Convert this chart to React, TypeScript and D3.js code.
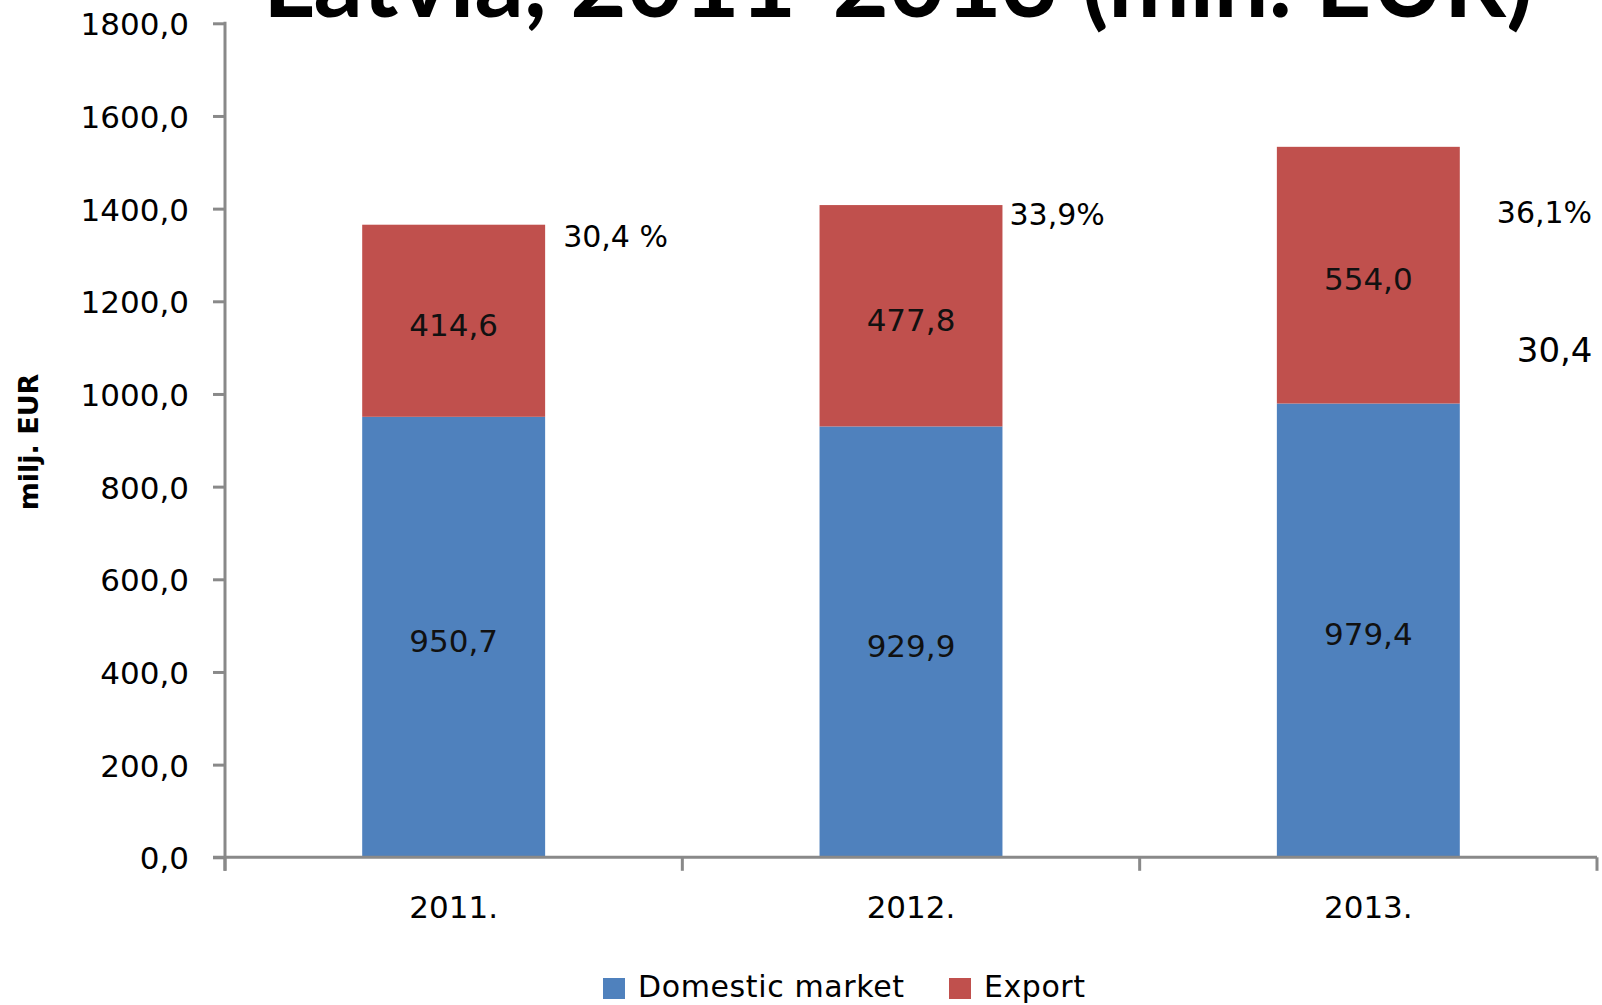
import React, { useRef, useEffect } from "react";
import * as d3 from "d3";

// chart values
const years = ["2011.", "2012.", "2013."];
const domestic = [950.7, 929.9, 979.4];
const exportVals = [414.6, 477.8, 554.0];
const shareLabels = ["30,4 %", "33,9%", "36,1%"];
const strayLabel = "30,4";
const yTicks = [0, 200, 400, 600, 800, 1000, 1200, 1400, 1600, 1800];
const seriesNames = ["Domestic market", "Export"];

const BLUE = "#4F81BD";
const RED = "#C0504D";
const AXIS = "#898989";
const FONT = "'DejaVu Sans', Verdana, sans-serif";

const App = () => {
  const svgRef = useRef<SVGSVGElement>(null);

  useEffect(() => {
    const width = 1602;
    const height = 1005;
    const left = 225;
    const right = 1597;
    const top = 23.3;
    const bottom = 857.3;

    const svg = d3.select(svgRef.current);
    svg.selectAll("*").remove();
    svg.attr("width", width).attr("height", height);

    const x = d3
      .scaleBand<string>()
      .domain(years)
      .range([left, right])
      .paddingInner(0.6)
      .paddingOuter(0.3);

    const y = d3.scaleLinear().domain([0, 1800]).range([bottom, top]);

    const fmt = (v: number) => d3.format(".1f")(v).replace(".", ",");

    // title (cut off at the top like in the source)
    svg
      .append("text")
      .attr("x", 898)
      .attr("y", 17)
      .attr("text-anchor", "middle")
      .attr("font-family", "Lato, 'Liberation Sans', sans-serif")
      .attr("font-weight", "bold")
      .attr("font-size", 97)
      .attr("textLength", 1270)
      .attr("lengthAdjust", "spacingAndGlyphs")
      .attr("fill", "#000")
      .text("Latvia, 2011-2013 (mln. EUR)");

    // stacked bars
    const rows = years.map((yr, i) => ({
      year: yr,
      domestic: domestic[i],
      export: exportVals[i],
    }));
    const stack = d3.stack<any>().keys(["domestic", "export"]);
    const series = stack(rows);
    const colors = [BLUE, RED];

    series.forEach((s, si) => {
      svg
        .append("g")
        .selectAll("rect")
        .data(s)
        .join("rect")
        .attr("x", (d: any) => x(d.data.year)!)
        .attr("width", x.bandwidth())
        .attr("y", (d) => y(d[1]))
        .attr("height", (d) => y(d[0]) - y(d[1]))
        .attr("fill", colors[si]);

      svg
        .append("g")
        .attr("font-family", FONT)
        .attr("font-size", 31)
        .attr("text-anchor", "middle")
        .attr("fill", "#111")
        .selectAll("text")
        .data(s)
        .join("text")
        .attr("x", (d: any) => x(d.data.year)! + x.bandwidth() / 2)
        .attr("y", (d) => (y(d[0]) + y(d[1])) / 2 + 15)
        .text((d) => fmt(d[1] - d[0]));
    });

    // y axis
    const yAxis = d3
      .axisLeft(y)
      .tickValues(yTicks)
      .tickFormat((d) => fmt(d as number))
      .tickSize(12)
      .tickSizeOuter(0)
      .tickPadding(24);

    const gy = svg
      .append("g")
      .attr("transform", `translate(${left},0)`)
      .call(yAxis);
    gy.select(".domain").remove();
    gy.selectAll("line").attr("stroke", AXIS).attr("stroke-width", 3);
    gy.selectAll("text")
      .attr("font-family", FONT)
      .attr("font-size", 31)
      .attr("fill", "#000")
      .attr("dy", "0.37em");

    svg
      .append("line")
      .attr("x1", left)
      .attr("x2", left)
      .attr("y1", top - 1.5)
      .attr("y2", bottom + 13.5)
      .attr("stroke", AXIS)
      .attr("stroke-width", 3);

    // x axis
    svg
      .append("line")
      .attr("x1", left - 12)
      .attr("x2", right)
      .attr("y1", bottom)
      .attr("y2", bottom)
      .attr("stroke", AXIS)
      .attr("stroke-width", 3);

    const step = x.step();
    const bounds = d3.range(years.length + 1).map((i) => left + i * step);
    svg
      .append("g")
      .selectAll("line")
      .data(bounds)
      .join("line")
      .attr("x1", (d) => d)
      .attr("x2", (d) => d)
      .attr("y1", bottom)
      .attr("y2", bottom + 13.5)
      .attr("stroke", AXIS)
      .attr("stroke-width", 3);

    svg
      .append("g")
      .attr("font-family", FONT)
      .attr("font-size", 31)
      .attr("text-anchor", "middle")
      .attr("fill", "#000")
      .selectAll("text")
      .data(years)
      .join("text")
      .attr("x", (d) => x(d)! + x.bandwidth() / 2)
      .attr("y", bottom + 61)
      .text((d) => d);

    // y axis title
    svg
      .append("text")
      .attr("transform", "translate(38,442) rotate(-90)")
      .attr("text-anchor", "middle")
      .attr("font-family", FONT)
      .attr("font-weight", "bold")
      .attr("font-size", 27)
      .attr("fill", "#000")
      .text("milj. EUR");

    // export share labels
    const shareOffsets = [
      [18, 22],
      [7, 19.5],
      [37, 76],
    ];
    svg
      .append("g")
      .attr("font-family", FONT)
      .attr("font-size", 30)
      .attr("fill", "#000")
      .selectAll("text")
      .data(shareLabels)
      .join("text")
      .attr("x", (d, i) => x(years[i])! + x.bandwidth() + shareOffsets[i][0])
      .attr("y", (d, i) => y(domestic[i] + exportVals[i]) + shareOffsets[i][1])
      .text((d) => d);

    svg
      .append("text")
      .attr("x", x(years[2])! + x.bandwidth() + 57)
      .attr("y", y(domestic[2]) - 42)
      .attr("font-family", FONT)
      .attr("font-size", 34)
      .attr("fill", "#000")
      .text(strayLabel);

    // legend
    const legendX = [603, 949];
    const legend = svg
      .append("g")
      .attr("font-family", FONT)
      .attr("font-size", 30)
      .attr("fill", "#000");
    seriesNames.forEach((name, i) => {
      legend
        .append("rect")
        .attr("x", legendX[i])
        .attr("y", 978)
        .attr("width", 22)
        .attr("height", 21)
        .attr("fill", colors[i]);
      legend
        .append("text")
        .attr("x", legendX[i] + 35)
        .attr("y", 997)
        .attr("textLength", i === 0 ? 266 : 101)
        .text(name);
    });
  }, []);

  return (
    <svg
      ref={svgRef}
      style={{ position: "absolute", left: 0, top: 0, display: "block" }}
    ></svg>
  );
};

export default App;
